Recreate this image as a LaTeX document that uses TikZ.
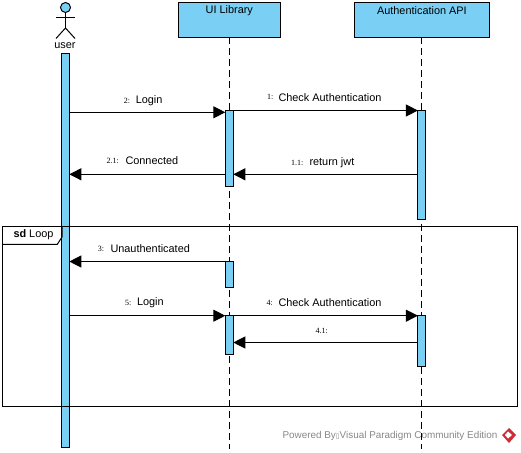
\documentclass[tikz,border=0pt]{standalone}
\usepackage{fontspec}
\setmainfont{Liberation Sans}
\newfontfamily\numfont{Liberation Serif}
\newfontfamily\symfont{DejaVu Sans}
\usetikzlibrary{arrows.meta}
\definecolor{vpblue}{RGB}{122,207,245}
\definecolor{vpgray}{RGB}{135,135,135}
\definecolor{vpred}{RGB}{205,45,55}
\tikzset{
  diagram/.style={x=1pt,y=-1pt,line width=1pt,black},
  labelfont/.style={font=\fontsize{10.9}{12}\selectfont},
  headbox/.style={draw,fill=vpblue,inner sep=0pt,outer sep=0pt,minimum height=34.5pt},
  activation/.style={draw,fill=vpblue,inner sep=0pt,outer sep=0pt,minimum width=8pt},
  lifeline/.style={dash pattern=on 7pt off 4pt},
  msg/.style={-{Triangle[length=12pt,width=12pt]}},
  msglabel/.style={anchor=west,inner sep=0pt,labelfont},
  numlabel/.style={anchor=west,inner sep=0pt,font=\numfont\fontsize{8}{10}\selectfont},
}
\begin{document}
\begin{tikzpicture}[diagram]
\useasboundingbox (0,0) rectangle (521,452);
% lifeline heads
\node[headbox,minimum width=102pt] (ui) at (229.3,19.8) {};
\node[headbox,minimum width=135.5pt] (api) at (421.9,19.8) {};
\node[inner sep=0pt,labelfont] (uilabel) at (229.3,11) {UI Library};
\node[inner sep=0pt,labelfont] (apilabel) at (421.9,11) {Authentication API};
\coordinate (uiend) at (229.3,449);
\coordinate (apiend) at (421.9,449);
\draw[lifeline] (ui.south) -- (uiend);
\draw[lifeline] (api.south) -- (apiend);
% actor
\node[draw,circle,fill=vpblue,inner sep=0pt,outer sep=0pt,minimum size=10pt] (head) at (65.5,7.5) {};
\coordinate (hip) at (65.5,28);
\coordinate (armL) at (56,18);
\coordinate (armR) at (75,18);
\coordinate (legL) at (56,38.5);
\coordinate (legR) at (75,38.5);
\draw (head.south) -- (hip);
\draw (armL) -- (armR);
\draw (legL) -- (hip) -- (legR);
\node[inner sep=0pt,labelfont] (userlabel) at (65,45.5) {user};
% activations
\node[activation,minimum height=394.5pt,anchor=north] (ua) at (65.3,53.3) {};
\node[activation,minimum height=76pt,anchor=north] (ui1) at (229.3,110.5) {};
\node[activation,minimum height=109pt,anchor=north] (api1) at (421.9,110.5) {};
\node[activation,minimum height=26.4pt,anchor=north] (ui2) at (229.3,261.3) {};
\node[activation,minimum height=38.8pt,anchor=north] (ui3) at (229.3,315.7) {};
\node[activation,minimum height=50.8pt,anchor=north] (api2) at (421.9,315.7) {};
% frame, drawn over the lifelines
\node[draw,inner sep=0pt,outer sep=0pt,minimum width=515pt,minimum height=180pt,anchor=north west] (frame) at (2.5,226.3) {};
\coordinate (tabA) at (62,226.3);
\coordinate (tabB) at (62,237);
\coordinate (tabC) at (57.3,244.3);
\coordinate (tabD) at (2.5,244.3);
\draw (tabA) -- (tabB) -- (tabC) -- (tabD);
\node[msglabel] (sdlabel) at (13,234.5) {\textbf{sd} Loop};
% messages
\draw[msg] (ua.east |- 0,112.3) -- (ui1.west |- 0,112.3);
\draw[msg] (ui1.east |- 0,110.5) -- (api1.west |- 0,110.5);
\draw[msg] (api1.west |- 0,174.3) -- (ui1.east |- 0,174.3);
\draw[msg] (ui1.west |- 0,174.3) -- (ua.east |- 0,174.3);
\draw[msg] (ui2.west |- 0,261.5) -- (ua.east |- 0,261.5);
\draw[msg] (ua.east |- 0,315.7) -- (ui3.west |- 0,315.7);
\draw[msg] (ui3.east |- 0,315.7) -- (api2.west |- 0,315.7);
\draw[msg] (api2.west |- 0,342.5) -- (ui3.east |- 0,342.5);
% labels
\node[numlabel] (n2) at (123.3,101) {2:};
\node[msglabel] (t2) at (135.3,100.3) {Login};
\node[numlabel] (n21) at (106,160.5) {2.1:};
\node[msglabel] (t21) at (125,160.3) {Connected};
\node[numlabel] (n1) at (266.7,97.3) {1:};
\node[msglabel] (t1) at (278,97.3) {Check Authentication};
\node[numlabel] (n11) at (290.7,162.5) {1.1:};
\node[msglabel] (t11) at (309,162.3) {return jwt};
\node[numlabel] (n3) at (97.3,249.3) {3:};
\node[msglabel] (t3) at (110,249) {Unauthenticated};
\node[numlabel] (n5) at (124.5,303.3) {5:};
\node[msglabel] (t5) at (136.5,303) {Login};
\node[numlabel] (n4) at (266,303.3) {4:};
\node[msglabel] (t4) at (278,303) {Check Authentication};
\node[numlabel] (n41) at (315,331) {4.1:};
% watermark
\node[anchor=west,inner sep=0pt,text=vpgray,font=\fontsize{9.9}{11}\selectfont] (wm) at (282,435.5) {Powered By{\symfont\fontsize{7}{8}\selectfont ▯}Visual Paradigm Community Edition};
\fill[vpred] (509,428) -- (516,435) -- (509,443) -- (502,435) -- cycle;
\fill[white] (508,431.5) -- (512,435) -- (508,438.5) -- (505,435) -- cycle;
\end{tikzpicture}
\end{document}
